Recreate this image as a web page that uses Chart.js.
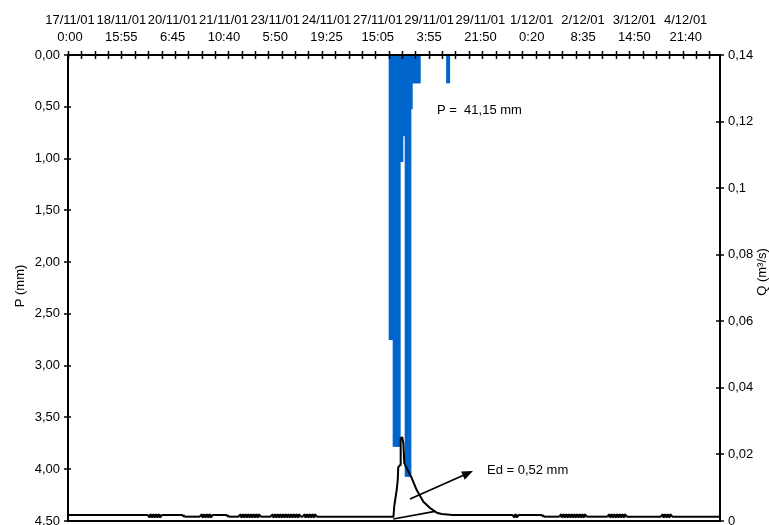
<!DOCTYPE html>
<html>
<head>
<meta charset="utf-8">
<script src="https://cdn.jsdelivr.net/npm/chart.js@4/dist/chart.umd.min.js"></script>
<style>
  html, body { margin: 0; padding: 0; background: #fff; }
  #wrap { width: 769px; height: 525px; }
</style>
</head>
<body>
<div id="wrap"><canvas id="c" width="769" height="525"></canvas></div>
<script>
// Top axis: record index of each labelled reading, with its date and time
const xLabelIndex = [1.5, 39.9, 78.3, 116.7, 155.1, 193.5, 231.9, 270.3, 308.7, 347.1, 385.5, 423.9, 462.3];
const xLabelDates = ['17/11/01', '18/11/01', '20/11/01', '21/11/01', '23/11/01', '24/11/01', '27/11/01',
                     '29/11/01', '29/11/01', '1/12/01', '2/12/01', '3/12/01', '4/12/01'];
const xLabelTimes = ['0:00', '15:55', '6:45', '10:40', '5:50', '19:25', '15:05',
                     '3:55', '21:50', '0:20', '8:35', '14:50', '21:40'];

// Rainfall P (mm) per record index
const rainIndex = [241, 242, 243, 244, 245, 246, 247, 248, 249, 250, 251, 252, 253,
                   254, 255, 256, 257, 258, 259, 260, 261, 262, 263, 284, 285];
const rainMm    = [2.75, 2.75, 2.75, 3.78, 3.78, 3.78, 3.78, 3.78, 1.03, 1.03, 0.78, 0.78, 4.07,
                   4.07, 4.07, 4.07, 0.52, 0.27, 0.27, 0.27, 0.27, 0.27, 0.27, 0.27, 0.27];

// Discharge Q (m3/s): [record index, Q]
const discharge = [
  [0, 0.0018], [60, 0.0018],
  [61, 0.0013], [62, 0.0018], [63, 0.0013], [64, 0.0018], [65, 0.0013], [66, 0.0018], [67, 0.0013], [68, 0.0018], [69, 0.0013],
  [70, 0.0018], [86, 0.0018], [87, 0.0013], [99, 0.0013],
  [100, 0.0018], [101, 0.0013], [102, 0.0018], [103, 0.0013], [104, 0.0018], [105, 0.0013], [106, 0.0018], [107, 0.0013], [108, 0.0018],
  [119, 0.0018], [120, 0.0013], [128, 0.0013],
  [129, 0.0018], [130, 0.0013], [131, 0.0018], [132, 0.0013], [133, 0.0018], [134, 0.0013], [135, 0.0018], [136, 0.0013],
  [137, 0.0018], [138, 0.0013], [139, 0.0018], [140, 0.0013], [141, 0.0018], [142, 0.0013], [143, 0.0018], [144, 0.0013],
  [152, 0.0013],
  [153, 0.0018], [154, 0.0013], [155, 0.0018], [156, 0.0013], [157, 0.0018], [158, 0.0013], [159, 0.0018], [160, 0.0013],
  [161, 0.0018], [162, 0.0013], [163, 0.0018], [164, 0.0013], [165, 0.0018], [166, 0.0013], [167, 0.0018], [168, 0.0013],
  [169, 0.0018], [170, 0.0013], [171, 0.0018], [172, 0.0013], [173, 0.0018], [174, 0.0013],
  [176, 0.0013],
  [177, 0.0018], [178, 0.0013], [179, 0.0018], [180, 0.0013], [181, 0.0018], [182, 0.0013], [183, 0.0018], [184, 0.0013],
  [185, 0.0018], [186, 0.0013],
  [243.6, 0.0013],
  [244.2, 0.0045], [246, 0.0093], [246.8, 0.0123], [247.2, 0.0162], [248.5, 0.0168], [249, 0.0248], [250.2, 0.0251],
  [251, 0.0234], [251.7, 0.0174], [253.5, 0.0159], [257.3, 0.0129], [261, 0.0093], [266, 0.0058], [271, 0.0039],
  [276, 0.0025], [279.7, 0.0021], [288, 0.0018],
  [333, 0.0018], [334, 0.0013], [335, 0.0018], [336, 0.0013], [337, 0.0018],
  [355, 0.0018], [356, 0.0013], [368, 0.0013],
  [369, 0.0018], [370, 0.0013], [371, 0.0018], [372, 0.0013], [373, 0.0018], [374, 0.0013], [375, 0.0018], [376, 0.0013],
  [377, 0.0018], [378, 0.0013], [379, 0.0018], [380, 0.0013], [381, 0.0018], [382, 0.0013], [383, 0.0018], [384, 0.0013],
  [385, 0.0018], [386, 0.0013], [387, 0.0018], [388, 0.0013],
  [404, 0.0013],
  [405, 0.0018], [406, 0.0013], [407, 0.0018], [408, 0.0013], [409, 0.0018], [410, 0.0013], [411, 0.0018], [412, 0.0013],
  [413, 0.0018], [414, 0.0013], [415, 0.0018], [416, 0.0013], [417, 0.0018], [418, 0.0013],
  [444, 0.0013],
  [445, 0.0018], [446, 0.0013], [447, 0.0018], [448, 0.0013], [449, 0.0018], [450, 0.0013], [451, 0.0018], [452, 0.0013],
  [488, 0.0013]
];

// Baseflow separation line under the hydrograph: [record index, Q]
const separation = [[243.5, 0.0006], [274.7, 0.0029]];

// Annotation texts
const totalRainText = 'P =  41,15 mm';
const directRunoffText = 'Ed = 0,52 mm';

const FONT = 'Liberation Sans, Arial, sans-serif';
const BLUE = '#0066CC';

function comma(v, d) { return v.toFixed(d).replace('.', ','); }

function line(ctx, x1, y1, x2, y2) {
  ctx.beginPath(); ctx.moveTo(x1, y1); ctx.lineTo(x2, y2); ctx.stroke();
}

// Keep the plot frame fixed: no extra room reserved for end labels
function noScalePadding(s) {
  s.paddingTop = 0; s.paddingBottom = 0; s.paddingLeft = 0; s.paddingRight = 0;
}

// Short back-and-forth flicker between two low readings is stroked a bit heavier
function flickerWidth(ctx) {
  const a = ctx.p0.parsed, b = ctx.p1.parsed;
  return (b.x - a.x <= 1 && a.y !== b.y && a.y < 0.002 && b.y < 0.002) ? 2.8 : 2;
}

// Crossing tick marks on all frame axes, bottom frame line, axis titles
const frameTicks = {
  id: 'frameTicks',
  afterDraw(chart) {
    const { ctx, chartArea: a, scales } = chart;
    ctx.save();
    ctx.strokeStyle = '#000';
    ctx.lineWidth = 2;
    line(ctx, a.left - 1, a.bottom, a.right + 1, a.bottom);
    ctx.lineWidth = 1.5;
    for (let v = 0; v <= 480; v += 10) {
      const px = Math.round(scales.x.getPixelForValue(v)) + 0.5;
      line(ctx, px, a.top - 4, px, a.top + 4);
    }
    scales.yP.ticks.forEach(t => {
      const py = Math.round(scales.yP.getPixelForValue(t.value));
      line(ctx, a.left - 4, py, a.left + 3, py);
    });
    scales.yQ.ticks.forEach(t => {
      const py = Math.round(scales.yQ.getPixelForValue(t.value));
      line(ctx, a.right - 4, py, a.right + 4, py);
    });
    ctx.fillStyle = '#000';
    ctx.font = '13px ' + FONT;
    ctx.textAlign = 'center';
    ctx.textBaseline = 'middle';
    ctx.save();
    ctx.translate(20, (a.top + a.bottom) / 2 - 2);
    ctx.rotate(-Math.PI / 2);
    ctx.fillText('P (mm)', 0, 0);
    ctx.restore();
    ctx.save();
    ctx.translate(762, (a.top + a.bottom) / 2 - 16);
    ctx.rotate(-Math.PI / 2);
    ctx.fillText('Q (m\u00B3/s)', 0, 0);
    ctx.restore();
    ctx.restore();
  }
};

// Event annotations: total rainfall, direct runoff arrow and label
const eventNotes = {
  id: 'eventNotes',
  afterDraw(chart) {
    const { ctx, scales } = chart;
    const x = scales.x, yP = scales.yP, yQ = scales.yQ;
    ctx.save();
    ctx.fillStyle = '#000';
    ctx.strokeStyle = '#000';
    ctx.font = '13px ' + FONT;
    ctx.textAlign = 'left';
    ctx.textBaseline = 'middle';
    ctx.fillText(totalRainText, x.getPixelForValue(276.2), yP.getPixelForValue(0.54));
    ctx.fillText(directRunoffText, x.getPixelForValue(313.6), yQ.getPixelForValue(0.0153));
    // arrow
    const x1 = x.getPixelForValue(256), y1 = yQ.getPixelForValue(0.0066);
    const x2 = x.getPixelForValue(303.1), y2 = yQ.getPixelForValue(0.0150);
    const ang = Math.atan2(y2 - y1, x2 - x1);
    const hl = 11, hw = 4.5;
    const bx = x2 - hl * Math.cos(ang), by = y2 - hl * Math.sin(ang);
    ctx.lineWidth = 1.8;
    line(ctx, x1, y1, bx, by);
    ctx.beginPath();
    ctx.moveTo(x2, y2);
    ctx.lineTo(bx + hw * Math.sin(ang), by - hw * Math.cos(ang));
    ctx.lineTo(bx - hw * Math.sin(ang), by + hw * Math.cos(ang));
    ctx.closePath();
    ctx.fill();
    ctx.restore();
  }
};

new Chart(document.getElementById('c'), {
  type: 'bar',
  data: {
    datasets: [
      {
        type: 'line',
        label: 'Q',
        data: discharge.map(([i, q]) => ({ x: i, y: q })),
        xAxisID: 'x',
        yAxisID: 'yQ',
        borderColor: '#000',
        borderWidth: 2,
        borderJoinStyle: 'round',
        segment: { borderWidth: flickerWidth },
        pointRadius: 0,
        tension: 0,
        order: 0
      },
      {
        type: 'line',
        label: 'Qb',
        data: separation.map(([i, q]) => ({ x: i, y: q })),
        xAxisID: 'x',
        yAxisID: 'yQ',
        borderColor: '#000',
        borderWidth: 1.6,
        pointRadius: 0,
        order: 0
      },
      {
        type: 'bar',
        label: 'P',
        data: rainIndex.map((i, k) => ({ x: i, y: rainMm[k] })),
        xAxisID: 'x',
        yAxisID: 'yP',
        backgroundColor: BLUE,
        borderWidth: 0,
        barThickness: 2,
        order: 1
      }
    ]
  },
  options: {
    responsive: false,
    animation: false,
    devicePixelRatio: 1,
    layout: { padding: { left: 0, right: 0, top: 0, bottom: 4 } },
    plugins: { legend: { display: false }, tooltip: { enabled: false } },
    scales: {
      x: {
        type: 'linear',
        position: 'top',
        min: 0,
        max: 488,
        offset: false,
        afterBuildTicks(s) { s.ticks = xLabelIndex.map(v => ({ value: v })); },
        afterFit(s) { s.height = 55; noScalePadding(s); },
        ticks: {
          autoSkip: false,
          maxRotation: 0,
          minRotation: 0,
          padding: 9,
          color: '#000',
          font: { family: FONT, size: 13, lineHeight: 1.3 },
          callback: (v, i) => [xLabelDates[i], xLabelTimes[i]]
        },
        grid: { display: true, drawOnChartArea: false, drawTicks: false },
        border: { display: true, color: '#000', width: 2, z: 1 }
      },
      yP: {
        type: 'linear',
        position: 'left',
        reverse: true,
        min: 0,
        max: 4.5,
        afterFit(s) { s.width = 68; noScalePadding(s); },
        ticks: {
          stepSize: 0.5,
          padding: 8,
          color: '#000',
          font: { family: FONT, size: 13 },
          callback: v => comma(v, 2)
        },
        grid: { display: true, drawOnChartArea: false, drawTicks: false },
        border: { display: true, color: '#000', width: 2, z: 1 }
      },
      yQ: {
        type: 'linear',
        position: 'right',
        min: 0,
        max: 0.14,
        afterFit(s) { s.width = 49; noScalePadding(s); },
        ticks: {
          stepSize: 0.02,
          padding: 8,
          color: '#000',
          font: { family: FONT, size: 13 },
          callback: v => String(Number(v.toFixed(2))).replace('.', ',')
        },
        grid: { display: true, drawOnChartArea: false, drawTicks: false },
        border: { display: true, color: '#000', width: 2, z: 1 }
      }
    }
  },
  plugins: [frameTicks, eventNotes]
});
</script>
</body>
</html>
